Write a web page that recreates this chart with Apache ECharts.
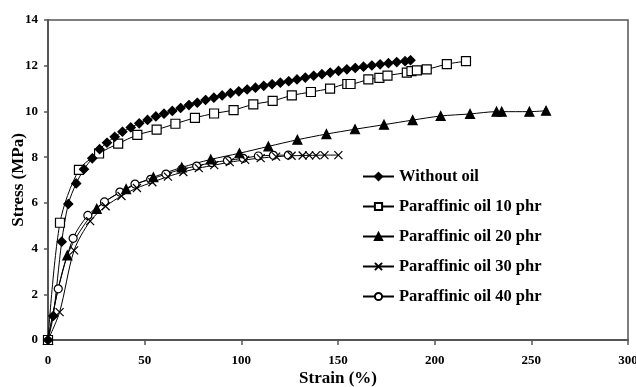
<!DOCTYPE html>
<html>
<head>
<meta charset="utf-8">
<script src="https://cdn.jsdelivr.net/npm/echarts@6/dist/echarts.min.js"></script>
<style>
  html, body { margin: 0; padding: 0; background: #fff; }
  #chart { width: 636px; height: 387px; }
</style>
</head>
<body>
<div id="chart"></div>
<script>
// Stress–strain curves of rubber compounds with varying paraffinic oil content
const seriesNames = [
  'Without oil',
  'Paraffinic oil 10 phr',
  'Paraffinic oil 20 phr',
  'Paraffinic oil 30 phr',
  'Paraffinic oil 40 phr'
];

// Strain (%) and stress (MPa) for each compound
const strainNoOil = [0, 2.7, 7.1, 10.5, 14.6, 18.6, 22.9, 26.7, 30.5, 34.5, 38.5, 42.8, 47.2, 51.5, 55.8, 60.0, 64.3, 68.6, 72.9, 77.2, 81.5, 85.8, 90.1, 94.4, 98.7, 103.0, 107.3, 111.6, 115.9, 120.2, 124.5, 128.8, 133.1, 137.4, 141.7, 146.0, 150.3, 154.6, 158.9, 163.2, 167.5, 171.8, 176.1, 180.4, 184.7, 187.5];
const stressNoOil = [0, 1.05, 4.3, 5.95, 6.85, 7.47, 7.95, 8.35, 8.63, 8.89, 9.11, 9.30, 9.48, 9.63, 9.78, 9.90, 10.02, 10.15, 10.28, 10.38, 10.50, 10.60, 10.70, 10.80, 10.88, 10.96, 11.04, 11.12, 11.19, 11.26, 11.32, 11.40, 11.48, 11.56, 11.63, 11.70, 11.77, 11.84, 11.90, 11.96, 12.01, 12.06, 12.11, 12.16, 12.20, 12.24];

const strain10 = [0, 6.2, 16.0, 26.4, 36.3, 46.2, 56.2, 65.9, 76.0, 85.9, 96.0, 106.2, 116.2, 126.1, 136.0, 145.9, 154.8, 156.5, 165.7, 171.4, 175.6, 185.6, 188.0, 190.8, 195.9, 206.3, 216.2];
const stress10 = [0, 5.13, 7.44, 8.16, 8.59, 8.97, 9.20, 9.46, 9.72, 9.91, 10.06, 10.31, 10.46, 10.70, 10.85, 11.00, 11.20, 11.20, 11.40, 11.47, 11.57, 11.70, 11.76, 11.80, 11.84, 12.07, 12.20];

const strain20 = [0, 10.0, 25.2, 40.4, 54.5, 69.2, 84.2, 99.0, 114.0, 129.0, 144.0, 158.8, 173.8, 188.6, 203.1, 218.3, 232.0, 234.7, 249.0, 257.6];
const stress20 = [0, 3.70, 5.74, 6.60, 7.12, 7.55, 7.90, 8.17, 8.47, 8.76, 9.01, 9.22, 9.42, 9.62, 9.80, 9.89, 9.99, 9.99, 9.99, 10.03];

const strain30 = [0, 6.0, 13.5, 21.8, 29.8, 38.0, 46.0, 54.0, 62.0, 70.0, 78.0, 86.0, 94.0, 102.0, 110.0, 118.0, 126.0, 131.7, 135.1, 138.6, 143.0, 150.2];
const stress30 = [0, 1.22, 3.92, 5.20, 5.85, 6.30, 6.65, 6.90, 7.15, 7.35, 7.52, 7.65, 7.78, 7.88, 7.96, 8.02, 8.06, 8.07, 8.08, 8.08, 8.09, 8.09];

const strain40 = [0, 5.3, 13.0, 20.6, 29.2, 37.2, 45.0, 53.1, 61.0, 69.2, 76.9, 84.7, 92.8, 101.0, 108.8, 116.6, 124.3];
const stress40 = [0, 2.24, 4.45, 5.45, 6.04, 6.47, 6.82, 7.03, 7.26, 7.47, 7.61, 7.76, 7.85, 7.95, 8.05, 8.08, 8.09];

// Axis ticks
const xTicks = { min: 0, max: 300, interval: 50 };
const yTicks = { min: 0, max: 14, interval: 2 };

function pairs(xs, ys) {
  return xs.map((x, i) => [x, ys[i]]);
}

const serifFont = '"Liberation Serif", "Times New Roman", serif';
const crossPath = 'path://M0,0L10,10M10,0L0,10';

function lineSeries(name, data, symbol, size, fill) {
  return {
    name: name,
    type: 'line',
    data: data,
    smooth: 0.3,
    symbol: symbol,
    symbolSize: size,
    showAllSymbol: true,
    lineStyle: { color: '#000', width: 1 },
    itemStyle: { color: fill, borderColor: '#000', borderWidth: 1.2 },
    emphasis: { disabled: true },
    animation: false
  };
}

const chart = echarts.init(document.getElementById('chart'), null, { renderer: 'canvas' });

chart.setOption({
  backgroundColor: '#fff',
  animation: false,
  grid: {
    left: 48, right: 8, top: 20, bottom: 47,
    containLabel: false,
    outerBoundsMode: 'none',
    show: true, borderColor: '#555', borderWidth: 1.5, backgroundColor: 'transparent'
  },
  legend: {
    orient: 'vertical',
    left: 362,
    top: 168,
    padding: 0,
    itemGap: 13,
    itemWidth: 31,
    itemHeight: 9,
    textStyle: { fontFamily: serifFont, fontWeight: 'bold', fontSize: 16.5, color: '#000' },
    data: seriesNames
  },
  xAxis: {
    type: 'value',
    min: xTicks.min, max: xTicks.max, interval: xTicks.interval,
    name: 'Strain (%)',
    nameLocation: 'middle',
    nameGap: 30,
    nameMoveOverlap: false,
    nameTextStyle: { fontFamily: serifFont, fontWeight: 'bold', fontSize: 17, color: '#000' },
    axisLine: { lineStyle: { color: '#555', width: 2 } },
    axisTick: { show: true, length: 5, lineStyle: { color: '#555', width: 1.5 } },
    axisLabel: { fontFamily: serifFont, fontWeight: 'bold', fontSize: 13, color: '#000', margin: 14 },
    splitLine: { show: false }
  },
  yAxis: {
    type: 'value',
    min: yTicks.min, max: yTicks.max, interval: yTicks.interval,
    name: 'Stress (MPa)',
    nameLocation: 'middle',
    nameGap: 21,
    nameMoveOverlap: false,
    nameTextStyle: { fontFamily: serifFont, fontWeight: 'bold', fontSize: 17, color: '#000' },
    axisLine: { lineStyle: { color: '#555', width: 2 } },
    axisTick: { show: true, length: 4, lineStyle: { color: '#555', width: 1.5 } },
    axisLabel: { fontFamily: serifFont, fontWeight: 'bold', fontSize: 13, color: '#000', margin: 10 },
    splitLine: { show: false }
  },
  series: [
    lineSeries(seriesNames[4], pairs(strain40, stress40), 'circle', 8, '#fff'),
    lineSeries(seriesNames[3], pairs(strain30, stress30), crossPath, 8, '#000'),
    lineSeries(seriesNames[2], pairs(strain20, stress20), 'triangle', 9, '#000'),
    lineSeries(seriesNames[1], pairs(strain10, stress10), 'rect', 9, '#fff'),
    lineSeries(seriesNames[0], pairs(strainNoOil, stressNoOil), 'diamond', 9, '#000')
  ]
});
</script>
</body>
</html>
